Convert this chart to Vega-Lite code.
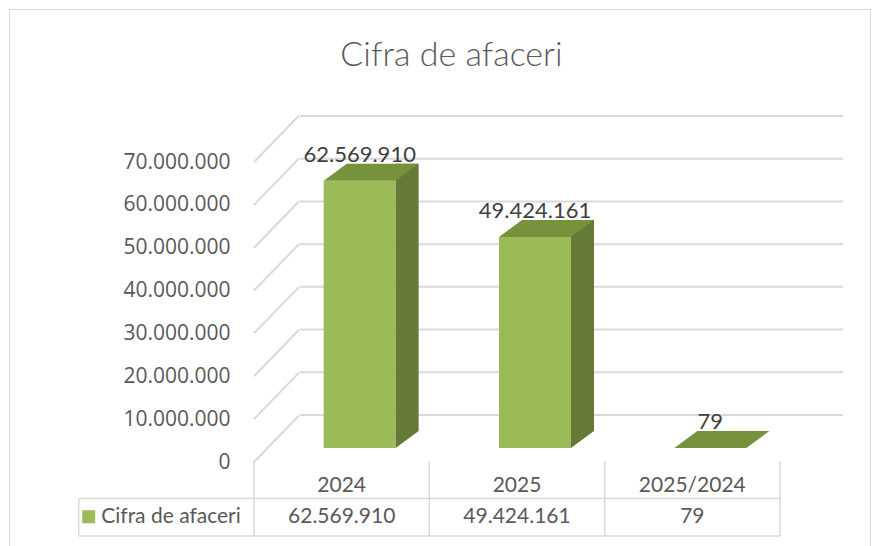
{
  "$schema": "https://vega.github.io/schema/vega-lite/v6.json",
  "width": 861,
  "height": 537,
  "autosize": {"type": "none"},
  "padding": {"left": 9, "top": 9, "right": 10, "bottom": 0},
  "background": "white",
  "title": {"text": "Cifra de afaceri", "font": "Lato", "fontWeight": 300, "fontSize": 34, "color": "#595959", "anchor": "middle", "frame": "group", "offset": -56, "baseline": "alphabetic", "dx": 12, "dy": 35},
  "config": {
    "view": {"stroke": "#d9d9d9", "strokeWidth": 1},
    "locale": {"number": {"decimal": ",", "thousands": ".", "grouping": [3], "currency": ["", ""]}}
  },
  "datasets": {
    "bars": [
      {"cat": "2024", "value": 62569910, "label": "62.569.910"},
      {"cat": "2025", "value": 49424161, "label": "49.424.161"},
      {"cat": "2025/2024", "value": 79, "label": "79"}
    ],
    "grid": [
      {"v": 0}, {"v": 10000000}, {"v": 20000000}, {"v": 30000000},
      {"v": 40000000}, {"v": 50000000}, {"v": 60000000}, {"v": 70000000}
    ],
    "series": [{"name": "Cifra de afaceri"}],
    "hrows": [{"r": "mid"}, {"r": "bot"}]
  },
  "layer": [
    {
      "data": {"name": "grid"},
      "mark": {"type": "rule", "color": "#d9d9d9", "strokeWidth": 2},
      "encoding": {
        "y": {"field": "v", "type": "quantitative", "scale": {"domain": [0, 70000000], "range": [406, 107]}, "axis": null},
        "x": {"datum": 0, "type": "quantitative", "scale": {"domain": [0, 1], "range": [291, 834]}, "axis": null},
        "x2": {"datum": 1}
      }
    },
    {
      "data": {"name": "grid"},
      "mark": {"type": "point", "shape": "M0,0L45,-46.5", "size": 4, "filled": false, "color": "#d9d9d9", "strokeWidth": 2, "opacity": 1},
      "encoding": {
        "x": {"datum": "2024", "type": "nominal", "bandPosition": 0, "scale": {"type": "band", "domain": ["legend", "2024", "2025", "2025/2024"], "range": [69.7, 771], "paddingInner": 0, "paddingOuter": 0}, "axis": null},
        "y": {"field": "v", "type": "quantitative", "scale": {"domain": [0, 70000000], "range": [453, 153]},
          "axis": {"values": [0, 10000000, 20000000, 30000000, 40000000, 50000000, 60000000, 70000000], "format": ",d", "labelFont": "Open Sans", "labelFontSize": 21, "labelColor": "#595959", "domain": false, "ticks": false, "tickSize": 0, "grid": false, "labelPadding": 0, "offset": -221, "title": null, "labelBaseline": "middle", "labelFlush": false, "labelOverlap": false}}
      }
    },
    {
      "data": {"name": "bars"},
      "mark": {"type": "bar", "width": 72, "color": "#9bbb59"},
      "encoding": {
        "x": {"field": "cat", "type": "nominal", "sort": null, "scale": {"type": "band", "domain": ["2024", "2025", "2025/2024"], "range": [263, 789], "paddingInner": 0, "paddingOuter": 0}, "axis": null},
        "y": {"field": "value", "type": "quantitative", "scale": {"domain": [0, 70000000], "range": [439, 140]}, "axis": null}
      }
    },
    {
      "data": {"name": "bars"},
      "transform": [{"filter": "datum.value > 1000000"}],
      "mark": {"type": "bar", "width": 23, "color": "#657a37"},
      "encoding": {
        "x": {"field": "cat", "type": "nominal", "sort": null, "scale": {"type": "band", "domain": ["2024", "2025", "2025/2024"], "range": [310.5, 836.5], "paddingInner": 0, "paddingOuter": 0}, "axis": null},
        "y": {"field": "value", "type": "quantitative", "scale": {"domain": [0, 70000000], "range": [422, 123]}, "axis": null}
      }
    },
    {
      "data": {"name": "bars"},
      "transform": [{"filter": "datum.value > 1000000"}],
      "mark": {"type": "point", "shape": "M36,0L36,-17L59,-17Z", "size": 4, "filled": true, "color": "#657a37", "opacity": 1},
      "encoding": {
        "x": {"field": "cat", "type": "nominal", "sort": null, "scale": {"type": "band", "domain": ["2024", "2025", "2025/2024"], "range": [263, 789], "paddingInner": 0, "paddingOuter": 0}, "axis": null},
        "y": {"datum": 0, "type": "quantitative", "scale": {"domain": [0, 70000000], "range": [439, 140]}, "axis": null}
      }
    },
    {
      "data": {"name": "bars"},
      "mark": {"type": "point", "shape": "M-36,0L36,0L59,-17L-13,-17Z", "size": 4, "filled": true, "color": "#76923c", "opacity": 1},
      "encoding": {
        "x": {"field": "cat", "type": "nominal", "sort": null, "scale": {"type": "band", "domain": ["2024", "2025", "2025/2024"], "range": [263, 789], "paddingInner": 0, "paddingOuter": 0}, "axis": null},
        "y": {"field": "value", "type": "quantitative", "scale": {"domain": [0, 70000000], "range": [439, 140]}, "axis": null}
      }
    },
    {
      "data": {"name": "bars"},
      "mark": {"type": "text", "font": "Lato", "fontSize": 22, "color": "#404040", "baseline": "middle", "align": "center", "dy": -26},
      "encoding": {
        "x": {"field": "cat", "type": "nominal", "sort": null, "scale": {"type": "band", "domain": ["2024", "2025", "2025/2024"], "range": [263, 789], "paddingInner": 0, "paddingOuter": 0}, "axis": null},
        "y": {"field": "value", "type": "quantitative", "scale": {"domain": [0, 70000000], "range": [439, 140]}, "axis": null},
        "text": {"field": "label"}
      }
    },
    {
      "data": {"name": "bars"},
      "mark": {"type": "rule", "color": "#d9d9d9", "strokeWidth": 1.5},
      "encoding": {
        "x": {"field": "cat", "type": "nominal", "bandPosition": 0, "scale": {"type": "band", "domain": ["legend", "2024", "2025", "2025/2024"], "range": [69.7, 771], "paddingInner": 0, "paddingOuter": 0}, "axis": null},
        "y": {"datum": "top", "type": "nominal", "scale": {"type": "point", "domain": ["top", "hdr", "mid", "val", "bot"], "range": [452, 527], "padding": 0}, "axis": null},
        "y2": {"datum": "bot"}
      }
    },
    {
      "data": {"name": "series"},
      "mark": {"type": "rule", "color": "#d9d9d9", "strokeWidth": 1.5},
      "encoding": {
        "x": {"datum": "2025/2024", "type": "nominal", "bandPosition": 1, "scale": {"type": "band", "domain": ["legend", "2024", "2025", "2025/2024"], "range": [69.7, 771], "paddingInner": 0, "paddingOuter": 0}, "axis": null},
        "y": {"datum": "top", "type": "nominal", "scale": {"type": "point", "domain": ["top", "hdr", "mid", "val", "bot"], "range": [452, 527], "padding": 0}, "axis": null},
        "y2": {"datum": "bot"}
      }
    },
    {
      "data": {"name": "series"},
      "mark": {"type": "rule", "color": "#d9d9d9", "strokeWidth": 1.5},
      "encoding": {
        "x": {"datum": "legend", "type": "nominal", "bandPosition": 0, "scale": {"type": "band", "domain": ["legend", "2024", "2025", "2025/2024"], "range": [69.7, 771], "paddingInner": 0, "paddingOuter": 0}, "axis": null},
        "y": {"datum": "mid", "type": "nominal", "scale": {"type": "point", "domain": ["top", "hdr", "mid", "val", "bot"], "range": [452, 527], "padding": 0}, "axis": null},
        "y2": {"datum": "bot"}
      }
    },
    {
      "data": {"name": "hrows"},
      "mark": {"type": "rule", "color": "#d9d9d9", "strokeWidth": 1.5},
      "encoding": {
        "x": {"datum": "legend", "type": "nominal", "bandPosition": 0, "scale": {"type": "band", "domain": ["legend", "2024", "2025", "2025/2024"], "range": [69.7, 771], "paddingInner": 0, "paddingOuter": 0}, "axis": null},
        "x2": {"datum": "2025/2024", "bandPosition": 1},
        "y": {"field": "r", "type": "nominal", "scale": {"type": "point", "domain": ["top", "hdr", "mid", "val", "bot"], "range": [452, 527], "padding": 0}, "axis": null}
      }
    },
    {
      "data": {"name": "bars"},
      "mark": {"type": "text", "font": "Lato", "fontSize": 21, "color": "#595959", "baseline": "middle", "align": "center", "dy": 6},
      "encoding": {
        "x": {"field": "cat", "type": "nominal", "scale": {"type": "band", "domain": ["legend", "2024", "2025", "2025/2024"], "range": [69.7, 771], "paddingInner": 0, "paddingOuter": 0}, "axis": null},
        "y": {"datum": "hdr", "type": "nominal", "scale": {"type": "point", "domain": ["top", "hdr", "mid", "val", "bot"], "range": [452, 527], "padding": 0}, "axis": null},
        "text": {"field": "cat"}
      }
    },
    {
      "data": {"name": "bars"},
      "mark": {"type": "text", "font": "Lato", "fontSize": 21, "color": "#595959", "baseline": "middle", "align": "center"},
      "encoding": {
        "x": {"field": "cat", "type": "nominal", "scale": {"type": "band", "domain": ["legend", "2024", "2025", "2025/2024"], "range": [69.7, 771], "paddingInner": 0, "paddingOuter": 0}, "axis": null},
        "y": {"datum": "val", "type": "nominal", "scale": {"type": "point", "domain": ["top", "hdr", "mid", "val", "bot"], "range": [452, 527], "padding": 0}, "axis": null},
        "text": {"field": "label"}
      }
    },
    {
      "data": {"name": "series"},
      "mark": {"type": "text", "font": "Lato", "fontSize": 21, "color": "#595959", "baseline": "middle", "align": "left", "dx": 22.5},
      "encoding": {
        "x": {"datum": "legend", "type": "nominal", "bandPosition": 0, "scale": {"type": "band", "domain": ["legend", "2024", "2025", "2025/2024"], "range": [69.7, 771], "paddingInner": 0, "paddingOuter": 0}, "axis": null},
        "y": {"datum": "val", "type": "nominal", "scale": {"type": "point", "domain": ["top", "hdr", "mid", "val", "bot"], "range": [452, 527], "padding": 0}, "axis": null},
        "text": {"field": "name"}
      }
    },
    {
      "data": {"name": "series"},
      "mark": {"type": "point", "shape": "M3.5,-7h13v13h-13z", "size": 4, "filled": true, "color": "#9bbb59", "opacity": 1},
      "encoding": {
        "x": {"datum": "legend", "type": "nominal", "bandPosition": 0, "scale": {"type": "band", "domain": ["legend", "2024", "2025", "2025/2024"], "range": [69.7, 771], "paddingInner": 0, "paddingOuter": 0}, "axis": null},
        "y": {"datum": "val", "type": "nominal", "scale": {"type": "point", "domain": ["top", "hdr", "mid", "val", "bot"], "range": [452, 527], "padding": 0}, "axis": null}
      }
    }
  ],
  "resolve": {"scale": {"x": "independent", "y": "independent"}}
}
